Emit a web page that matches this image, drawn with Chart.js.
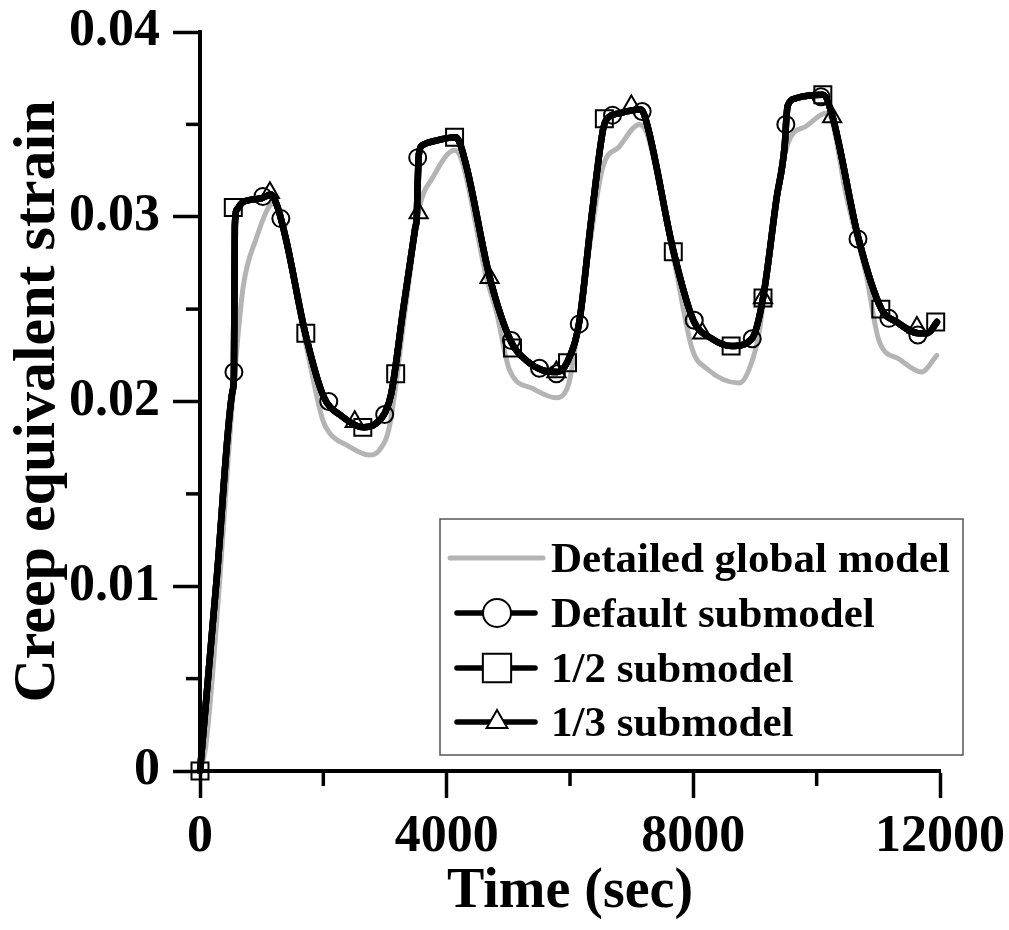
<!DOCTYPE html>
<html>
<head>
<meta charset="utf-8">
<script src="https://cdn.jsdelivr.net/npm/chart.js@4.4.1/dist/chart.umd.min.js"></script>
<style>
  html, body { margin: 0; padding: 0; background: #fff; }
  #wrap { width: 1009px; height: 930px; }
</style>
</head>
<body>
<div id="wrap"><canvas id="chart" width="1009" height="930"></canvas></div>
<script>
// ---- axis ticks ----
const xTickLabels = ['0', '4000', '8000', '12000'];
const yTickLabels = ['0', '0.01', '0.02', '0.03', '0.04'];
const xMinorTicks = [2000, 6000, 10000];
const yMinorTicks = [0.005, 0.015, 0.025, 0.035];

const seriesNames = ['Detailed global model', 'Default submodel', '1/2 submodel', '1/3 submodel'];

// ---- Detailed global model (grey) ----
const globalTime = [0, 100, 580, 700, 920, 1130, 1200, 1300, 1730, 1990, 2100, 2400, 2750, 2915, 3075, 3350, 3560, 3770, 4130, 4250,
  4645, 4810, 5020, 5395, 5780, 5900, 5990, 6265, 6525, 6800, 7125, 7250, 7690, 7985, 8210, 8745, 8900, 9065, 9300, 9550,
  9830, 10150, 10250, 10475, 10800, 11010, 11335, 11700, 11950];
const globalStrain = [0, 0.0015, 0.0222, 0.0262, 0.0289, 0.0306, 0.0307, 0.0299, 0.0229, 0.0190, 0.0183, 0.0176, 0.0171, 0.0174, 0.0187, 0.0255, 0.0305, 0.0321, 0.0336, 0.0330,
  0.0267, 0.0248, 0.0217, 0.0207, 0.0202, 0.0204, 0.0211, 0.0272, 0.0326, 0.0338, 0.0350, 0.0345, 0.0276, 0.0228, 0.0218, 0.0210, 0.0217, 0.0237, 0.0300, 0.0341,
  0.0349, 0.0356, 0.0352, 0.0312, 0.0269, 0.0233, 0.0223, 0.0216, 0.0225];

// ---- submodel curve (the three black lines lie on top of each other) ----
const subTime = [0, 275, 530, 550, 565, 600, 700, 1000, 1150, 1250, 1400, 1700, 2000, 2300, 2650, 2850, 3000, 3100, 3300, 3490,
  3515, 3530, 3550, 3620, 3800, 4150, 4300, 4700, 5050, 5300, 5550, 5800, 5950, 6150, 6350, 6540, 6600, 6800, 7150, 7250,
  7680, 8000, 8300, 8620, 8950, 9130, 9350, 9485, 9510, 9530, 9650, 10100, 10250, 10680, 11050, 11300, 11650, 11800, 11950];
const subStrain = [0, 0.0106, 0.0206, 0.0214, 0.0295, 0.0304, 0.0308, 0.0310, 0.0312, 0.0306, 0.0287, 0.0238, 0.0203, 0.0192, 0.0186, 0.0188, 0.0194, 0.0204, 0.0251, 0.0294,
  0.0300, 0.0318, 0.0334, 0.0339, 0.0341, 0.0343, 0.0330, 0.0267, 0.0232, 0.0222, 0.0217, 0.0216, 0.0221, 0.0243, 0.0300, 0.0348, 0.0353, 0.0356, 0.0358, 0.0350,
  0.0281, 0.0244, 0.0234, 0.0230, 0.0234, 0.0256, 0.0310, 0.0340, 0.0354, 0.0360, 0.0364, 0.0366, 0.0355, 0.0288, 0.0250, 0.0243, 0.0237, 0.0237, 0.0243];

// ---- marker positions ----
const defaultMarkTime = [550, 1020, 1311, 2088, 2995, 3530, 5050, 5505, 5780, 6150, 6690, 7170, 8015, 8955, 9500, 10070, 10670, 11170, 11640];
const defaultMarkStrain = [0.0216, 0.0311, 0.0299, 0.0200, 0.0193, 0.0332, 0.0233, 0.0218, 0.0215, 0.0242, 0.0355, 0.0357, 0.0244, 0.0234, 0.0350, 0.0365, 0.0288, 0.0245, 0.0236];

const halfMarkTime = [0, 540, 1716, 2640, 3173, 4128, 5068, 5960, 6557, 7675, 8613, 9130, 10100, 11040, 11930];
const halfMarkStrain = [0, 0.0305, 0.0237, 0.0186, 0.0215, 0.0343, 0.0229, 0.0221, 0.0353, 0.0281, 0.0230, 0.0256, 0.0366, 0.0250, 0.0243];

const thirdMarkTime = [1133, 2509, 3545, 4695, 5780, 6995, 8145, 9130, 10250, 11625];
const thirdMarkStrain = [0.0313, 0.0189, 0.0302, 0.0267, 0.0216, 0.0360, 0.0237, 0.0256, 0.0354, 0.0240];

const toPoints = (xs, ys) => xs.map((x, i) => ({ x: x, y: ys[i] }));

const GREY = '#b4b4b4';
const FONT = '"Liberation Serif", "Times New Roman", serif';

function lineSet(label, xs, ys, color, width, order) {
    return {
        label: label,
        data: toPoints(xs, ys),
        showLine: true,
        borderColor: color,
        borderWidth: width,
        pointRadius: 0,
        pointHoverRadius: 0,
        cubicInterpolationMode: 'monotone',
        borderJoinStyle: 'round',
        borderCapStyle: 'round',
        fill: false,
        clip: false,
        order: order
    };
}

function markerSet(label, xs, ys, style, radius) {
    return {
        label: label,
        data: toPoints(xs, ys),
        showLine: false,
        pointStyle: style,
        pointRadius: radius,
        pointBorderWidth: 2,
        pointBorderColor: '#000',
        pointBackgroundColor: 'rgba(0,0,0,0)',
        clip: false,
        order: 1
    };
}

// minor tick marks drawn on the axes
const minorTickPlugin = {
    id: 'minorTicks',
    afterDraw(chart) {
        const ctx = chart.ctx;
        const xs = chart.scales.x, ys = chart.scales.y;
        const area = chart.chartArea;
        ctx.save();
        ctx.strokeStyle = '#000';
        ctx.lineWidth = 3.5;
        xMinorTicks.forEach(v => {
            const px = xs.getPixelForValue(v);
            ctx.beginPath();
            ctx.moveTo(px, area.bottom);
            ctx.lineTo(px, area.bottom + 15);
            ctx.stroke();
        });
        yMinorTicks.forEach(v => {
            const py = ys.getPixelForValue(v);
            ctx.beginPath();
            ctx.moveTo(area.left, py);
            ctx.lineTo(area.left - 14, py);
            ctx.stroke();
        });
        ctx.restore();
    }
};

// boxed legend inside the plot
const boxLegendPlugin = {
    id: 'boxLegend',
    afterDraw(chart) {
        const ctx = chart.ctx;
        const box = { x: 440, y: 519, w: 523, h: 236 };
        const rows = [558, 613, 668, 722];
        const styles = [null, 'circle', 'rect', 'triangle'];
        const radii = [0, 14, 20, 12];
        ctx.save();
        ctx.fillStyle = '#fff';
        ctx.fillRect(box.x, box.y, box.w, box.h);
        ctx.strokeStyle = '#555';
        ctx.lineWidth = 1.5;
        ctx.strokeRect(box.x, box.y, box.w, box.h);

        rows.forEach((ry, i) => {
            ctx.lineCap = 'round';
            if (i === 0) {
                ctx.strokeStyle = GREY;
                ctx.lineWidth = 5;
                ctx.beginPath();
                ctx.moveTo(450, ry);
                ctx.lineTo(543, ry);
                ctx.stroke();
            } else {
                ctx.strokeStyle = '#000';
                ctx.lineWidth = 5.5;
                ctx.beginPath();
                ctx.moveTo(457, ry);
                ctx.lineTo(535, ry);
                ctx.stroke();
                ctx.fillStyle = '#fff';
                ctx.strokeStyle = '#000';
                ctx.lineWidth = 2;
                Chart.helpers.drawPoint(ctx, { pointStyle: styles[i], radius: radii[i], borderWidth: 2, rotation: 0 }, 497, ry);
            }
            ctx.fillStyle = '#000';
            ctx.font = 'bold 43px ' + FONT;
            ctx.textBaseline = 'middle';
            ctx.textAlign = 'left';
            ctx.fillText(seriesNames[i], 551, ry + 3);
        });
        ctx.restore();
    }
};

const datasets = [
    markerSet(seriesNames[1], defaultMarkTime, defaultMarkStrain, 'circle', 8.5),
    markerSet(seriesNames[2], halfMarkTime, halfMarkStrain, 'rect', 12),
    markerSet(seriesNames[3], thirdMarkTime, thirdMarkStrain, 'triangle', 10.5),
    lineSet(seriesNames[1], subTime, subStrain, '#000', 6.5, 2),
    lineSet(seriesNames[2], subTime, subStrain, '#000', 6.5, 2),
    lineSet(seriesNames[3], subTime, subStrain, '#000', 6.5, 2),
    lineSet(seriesNames[0], globalTime, globalStrain, GREY, 5, 3)
];

const axisGrid = {
    drawOnChartArea: false,
    drawTicks: true,
    tickLength: 27,
    tickWidth: 3.5,
    tickColor: '#000'
};
const axisBorder = { display: true, width: 4, color: '#000' };

new Chart(document.getElementById('chart'), {
    type: 'scatter',
    data: { datasets: datasets },
    options: {
        responsive: false,
        maintainAspectRatio: false,
        animation: false,
        layout: { padding: { top: 32, right: 69, left: 0, bottom: 0 } },
        plugins: {
            legend: { display: false },
            tooltip: { enabled: false }
        },
        scales: {
            x: {
                type: 'linear',
                min: 0,
                max: 12000,
                grid: axisGrid,
                border: axisBorder,
                ticks: {
                    stepSize: 4000,
                    maxRotation: 0,
                    padding: 8,
                    color: '#000',
                    font: { family: FONT, size: 52, weight: 'bold' },
                    callback: v => xTickLabels[Math.round(v / 4000)]
                },
                title: {
                    display: true,
                    text: 'Time (sec)',
                    color: '#000',
                    font: { family: FONT, size: 56, weight: 'bold' },
                    padding: { top: 0, bottom: 4 }
                },
                afterFit: s => {
                    s.height = 159;
                    s.paddingLeft = 0;
                    s.paddingRight = 0;
                }
            },
            y: {
                type: 'linear',
                min: 0,
                max: 0.04,
                grid: axisGrid,
                border: axisBorder,
                ticks: {
                    stepSize: 0.01,
                    padding: 13,
                    color: '#000',
                    font: { family: FONT, size: 52, weight: 'bold' },
                    callback: v => yTickLabels[Math.round(v / 0.01)]
                },
                title: {
                    display: true,
                    text: 'Creep equivalent strain',
                    color: '#000',
                    font: { family: FONT, size: 60, weight: 'bold' },
                    padding: { top: 2, bottom: 0 }
                },
                afterFit: s => {
                    s.width = 200;
                    s.paddingTop = 0;
                    s.paddingBottom = 0;
                }
            }
        }
    },
    plugins: [minorTickPlugin, boxLegendPlugin]
});
</script>
</body>
</html>
